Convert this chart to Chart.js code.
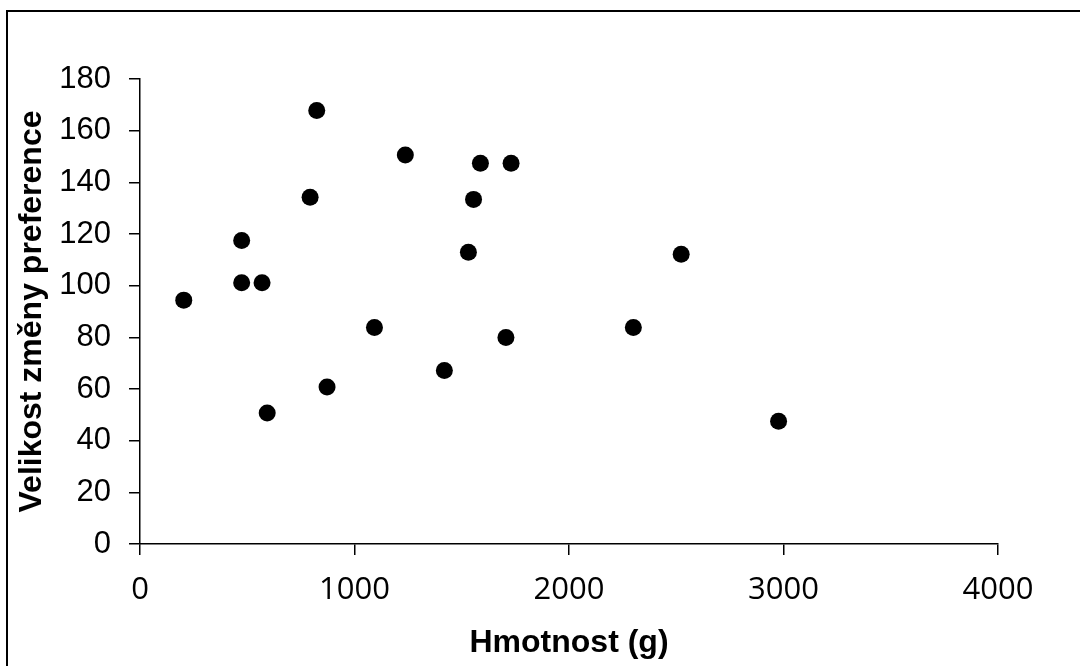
<!DOCTYPE html>
<html>
<head>
<meta charset="utf-8">
<script src="https://cdn.jsdelivr.net/npm/chart.js@4"></script>
<style>
  body { margin: 0; background: #fff; overflow: hidden; }
  #wrap { position: relative; width: 1080px; height: 666px; }
  #frame { position: absolute; left: 6px; top: 10px; width: 1200px; height: 800px; border: 2px solid #000; pointer-events: none; }
</style>
</head>
<body>
<div id="wrap">
  <canvas id="scatter" width="1080" height="666"></canvas>
  <div id="frame"></div>
</div>
<script>
// weight in grams vs. size of preference change
const hmotnost = [204, 474, 474, 569, 593, 793, 824, 872, 1093, 1237, 1419, 1531, 1555, 1587, 1706, 1730, 2300, 2523, 2977];
const zmena    = [94.4, 117.5, 101.1, 101.1, 50.7, 134.2, 167.8, 60.8, 83.8, 150.6, 67.2, 112.9, 133.4, 147.4, 79.9, 147.4, 83.8, 112.2, 47.5];
const xTicks = [0, 1000, 2000, 3000, 4000];
const yTicks = [0, 20, 40, 60, 80, 100, 120, 140, 160, 180];

let points = [];
for (let i = 0; i < hmotnost.length; i++) {
  points.push({ x: hmotnost[i], y: zmena[i] });
}

new Chart('scatter', {
  type: 'scatter',
  data: {
    datasets: [{
      data: points,
      backgroundColor: '#000',
      borderWidth: 0,
      pointRadius: 8.5,
      pointHoverRadius: 8.5
    }]
  },
  options: {
    responsive: false,
    animation: false,
    events: [],
    layout: { padding: { top: 79, right: 82, left: 0, bottom: 0 } },
    plugins: {
      legend: { display: false },
      tooltip: { enabled: false }
    },
    scales: {
      x: {
        type: 'linear',
        min: xTicks[0],
        max: xTicks[xTicks.length - 1],
        afterBuildTicks: (scale) => { scale.ticks = xTicks.map(v => ({ value: v })); },
        afterFit: (scale) => { scale.height = 122; },
        border: { display: true, color: '#000', width: 1.5 },
        grid: { drawOnChartArea: false, drawTicks: true, tickLength: 11, color: '#000', lineWidth: 1.5 },
        ticks: {
          color: '#000',
          padding: 17,
          maxRotation: 0,
          callback: (v) => String(v),
          font: { family: 'Open Sans', size: 31 }
        },
        title: {
          display: true,
          text: 'Hmotnost (g)',
          color: '#000',
          padding: { top: 0, bottom: 4 },
          font: { family: 'Liberation Sans', size: 32, weight: 'bold' }
        }
      },
      y: {
        type: 'linear',
        min: yTicks[0],
        max: yTicks[yTicks.length - 1],
        afterBuildTicks: (scale) => { scale.ticks = yTicks.map(v => ({ value: v })); },
        afterFit: (scale) => { scale.width = 140; },
        border: { display: true, color: '#000', width: 1.5 },
        grid: { drawOnChartArea: false, drawTicks: true, tickLength: 11, color: '#000', lineWidth: 1.5 },
        ticks: {
          color: '#000',
          padding: 18,
          font: { family: 'Liberation Sans', size: 31 }
        },
        title: {
          display: true,
          text: 'Velikost změny preference',
          color: '#000',
          padding: { top: 13, bottom: 0 },
          font: { family: 'Liberation Sans', size: 32, weight: 'bold' }
        }
      }
    }
  }
});
</script>
</body>
</html>
